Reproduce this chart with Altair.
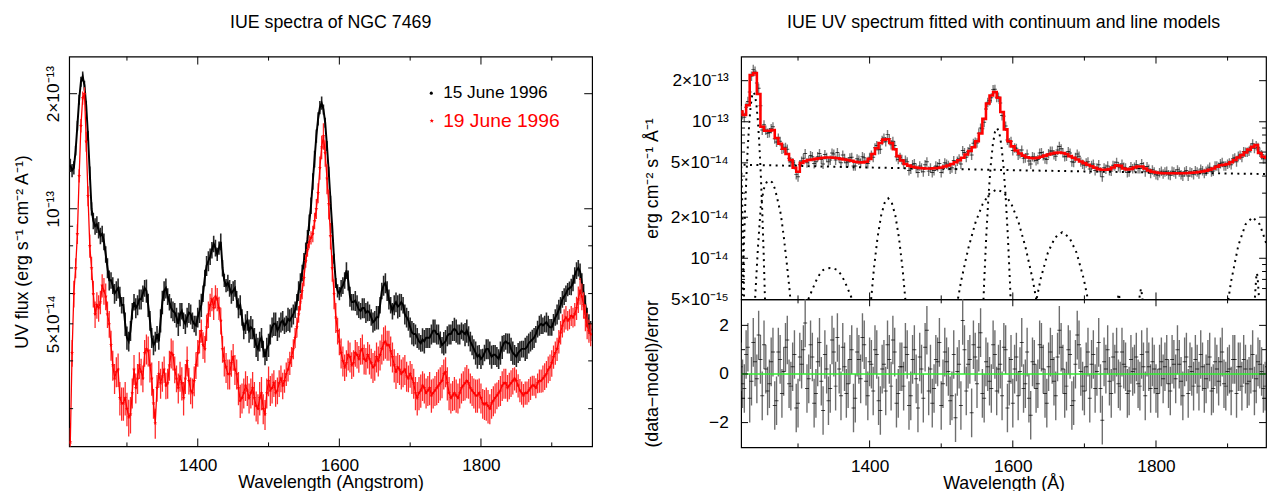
import altair as alt
import pandas as pd

FONT = "Liberation Sans"
UNIT = 1e-14  # all flux arrays below are in units of 1e-14 erg s^-1 cm^-2 A^-1

# ---------------------------------------------------------------- data
wavelength = [
    1220, 1225, 1230, 1235, 1240, 1245, 1250, 1255, 1260, 1265,
    1270, 1275, 1280, 1285, 1290, 1295, 1300, 1305, 1310, 1315,
    1320, 1325, 1330, 1335, 1340, 1345, 1350, 1355, 1360, 1365,
    1370, 1375, 1380, 1385, 1390, 1395, 1400, 1405, 1410, 1415,
    1420, 1425, 1430, 1435, 1440, 1445, 1450, 1455, 1460, 1465,
    1470, 1475, 1480, 1485, 1490, 1495, 1500, 1505, 1510, 1515,
    1520, 1525, 1530, 1535, 1540, 1545, 1550, 1555, 1560, 1565,
    1570, 1575, 1580, 1585, 1590, 1595, 1600, 1605, 1610, 1615,
    1620, 1625, 1630, 1635, 1640, 1645, 1650, 1655, 1660, 1665,
    1670, 1675, 1680, 1685, 1690, 1695, 1700, 1705, 1710, 1715,
    1720, 1725, 1730, 1735, 1740, 1745, 1750, 1755, 1760, 1765,
    1770, 1775, 1780, 1785, 1790, 1795, 1800, 1805, 1810, 1815,
    1820, 1825, 1830, 1835, 1840, 1845, 1850, 1855, 1860, 1865,
    1870, 1875, 1880, 1885, 1890, 1895, 1900, 1905, 1910, 1915,
    1920, 1925, 1930, 1935, 1940, 1945, 1950, 1955,
]
wavelength_mid = [
    1222.5, 1227.5, 1232.5, 1237.5, 1242.5, 1247.5, 1252.5, 1257.5, 1262.5, 1267.5,
    1272.5, 1277.5, 1282.5, 1287.5, 1292.5, 1297.5, 1302.5, 1307.5, 1312.5, 1317.5,
    1322.5, 1327.5, 1332.5, 1337.5, 1342.5, 1347.5, 1352.5, 1357.5, 1362.5, 1367.5,
    1372.5, 1377.5, 1382.5, 1387.5, 1392.5, 1397.5, 1402.5, 1407.5, 1412.5, 1417.5,
    1422.5, 1427.5, 1432.5, 1437.5, 1442.5, 1447.5, 1452.5, 1457.5, 1462.5, 1467.5,
    1472.5, 1477.5, 1482.5, 1487.5, 1492.5, 1497.5, 1502.5, 1507.5, 1512.5, 1517.5,
    1522.5, 1527.5, 1532.5, 1537.5, 1542.5, 1547.5, 1552.5, 1557.5, 1562.5, 1567.5,
    1572.5, 1577.5, 1582.5, 1587.5, 1592.5, 1597.5, 1602.5, 1607.5, 1612.5, 1617.5,
    1622.5, 1627.5, 1632.5, 1637.5, 1642.5, 1647.5, 1652.5, 1657.5, 1662.5, 1667.5,
    1672.5, 1677.5, 1682.5, 1687.5, 1692.5, 1697.5, 1702.5, 1707.5, 1712.5, 1717.5,
    1722.5, 1727.5, 1732.5, 1737.5, 1742.5, 1747.5, 1752.5, 1757.5, 1762.5, 1767.5,
    1772.5, 1777.5, 1782.5, 1787.5, 1792.5, 1797.5, 1802.5, 1807.5, 1812.5, 1817.5,
    1822.5, 1827.5, 1832.5, 1837.5, 1842.5, 1847.5, 1852.5, 1857.5, 1862.5, 1867.5,
    1872.5, 1877.5, 1882.5, 1887.5, 1892.5, 1897.5, 1902.5, 1907.5, 1912.5, 1917.5,
    1922.5, 1927.5, 1932.5, 1937.5, 1942.5, 1947.5, 1952.5,
]

flux_15june = [
    13.0, 12.8, 16.5, 21.5, 21.0, 15.5, 10.0, 9.0, 8.8, 8.6,
    7.6, 6.5, 6.3, 6.1, 5.9, 5.6, 4.6, 4.8, 5.7, 5.6,
    5.8, 6.2, 5.6, 4.6, 4.5, 4.5, 5.7, 6.2, 5.7, 5.4,
    5.2, 5.3, 5.1, 5.2, 5.3, 5.0, 5.2, 5.6, 6.6, 7.3,
    7.8, 7.9, 7.9, 7.0, 6.3, 6.2, 6.1, 5.8, 5.6, 4.8,
    5.1, 4.9, 4.6, 4.3, 4.6, 4.1, 4.4, 4.9, 5.0, 4.9,
    5.1, 5.0, 5.1, 5.3, 5.7, 6.4, 7.3, 8.3, 10.2, 13.5,
    17.2, 18.9, 16.8, 12.5, 8.9, 6.4, 6.0, 6.3, 6.9, 5.9,
    5.7, 5.6, 5.4, 5.5, 5.4, 5.2, 5.1, 5.2, 6.1, 6.4,
    5.8, 5.4, 5.7, 5.6, 5.6, 5.2, 4.9, 4.7, 4.6, 4.45,
    4.5, 4.6, 4.7, 4.8, 4.7, 4.4, 4.5, 4.7, 4.8, 4.8,
    4.7, 4.75, 4.8, 4.5, 4.3, 4.1, 4.05, 4.2, 4.3, 4.1,
    4.15, 4.05, 4.35, 4.5, 4.45, 4.2, 4.1, 4.25, 4.3, 4.35,
    4.5, 4.6, 4.85, 5.0, 5.0, 4.95, 4.9, 5.2, 5.45, 5.8,
    6.0, 6.2, 6.4, 6.9, 6.85, 6.0, 5.2, 4.8,
]
flux_15june_mid = [
    12.6, 14.2, 19.3, 22.2, 18.6, 12.4, 9.3, 9.1, 8.5, 8.2,
    7.0, 6.5, 6.0, 6.2, 5.6, 5.0, 4.5, 5.4, 5.5, 5.8,
    6.0, 6.1, 5.1, 4.4, 4.7, 5.1, 6.1, 5.9, 5.5, 5.35,
    5.0, 5.4, 5.0, 5.35, 5.1, 4.95, 5.4, 6.0, 7.1, 7.5,
    8.1, 7.6, 8.2, 6.5, 6.4, 6.0, 6.2, 5.5, 5.2, 5.0,
    4.8, 4.85, 4.4, 4.5, 4.3, 4.3, 4.7, 5.0, 4.8, 5.05,
    4.95, 5.15, 5.2, 5.45, 6.1, 6.8, 7.7, 9.2, 11.8, 15.5,
    18.4, 18.2, 14.6, 10.5, 7.4, 6.1, 6.2, 6.5, 6.5, 5.7,
    5.75, 5.45, 5.5, 5.35, 5.35, 5.05, 5.2, 5.6, 6.3, 6.1,
    5.6, 5.6, 5.55, 5.7, 5.3, 5.1, 4.75, 4.7, 4.5, 4.55,
    4.6, 4.6, 4.8, 4.7, 4.55, 4.45, 4.65, 4.7, 4.85, 4.7,
    4.8, 4.7, 4.65, 4.4, 4.2, 4.15, 4.1, 4.3, 4.2, 4.15,
    4.1, 4.2, 4.45, 4.45, 4.3, 4.15, 4.2, 4.3, 4.3, 4.45,
    4.55, 4.7, 4.95, 4.95, 5.05, 4.9, 5.05, 5.3, 5.6, 5.9,
    6.15, 6.25, 6.7, 7.0, 6.4, 5.6, 5.0,
]
err_15june_pct = [
    4, 4, 3, 3, 3, 3, 4, 5, 5, 5,
    5, 6, 5, 6, 6, 5, 7, 6, 5, 6,
    6, 5, 7, 6, 6, 5, 7, 6, 5, 6,
    6, 7, 5, 6, 6, 5, 6, 7, 5, 6,
    5, 5, 4, 5, 4, 5, 6, 5, 6, 5,
    6, 7, 6, 7, 6, 5, 7, 6, 7, 6,
    6, 5, 7, 6, 5, 6, 5, 6, 5, 5,
    4, 4, 3, 3, 3, 3, 4, 5, 5, 6,
    5, 6, 5, 6, 6, 5, 6, 7, 5, 6,
    6, 5, 6, 7, 5, 6, 6, 7, 6, 5,
    7, 6, 6, 7, 6, 5, 7, 6, 6, 7,
    6, 5, 7, 6, 6, 7, 6, 5, 6, 7,
    6, 6, 7, 5, 6, 7, 6, 6, 5, 7,
    6, 6, 5, 6, 5, 6, 5, 5, 6, 5,
    5, 4, 5, 5, 5, 6, 6, 6,
]

flux_19june = [
    2.45, 6.0, 8.6, 16.5, 20.0, 10.8, 7.0, 5.3, 5.5, 6.3,
    5.9, 5.0, 3.9, 3.75, 3.2, 3.1, 3.0, 2.9, 3.8, 3.6,
    3.75, 4.2, 4.25, 3.6, 2.75, 3.7, 3.65, 3.45, 3.9, 4.15,
    3.6, 3.65, 3.2, 4.0, 3.35, 3.55, 4.2, 4.8, 4.3, 5.3,
    5.8, 5.9, 5.5, 4.3, 3.85, 3.7, 4.1, 3.7, 3.15, 3.3,
    3.35, 3.3, 3.2, 3.0, 3.3, 2.9, 3.55, 3.4, 3.3, 3.5,
    3.45, 3.7, 3.95, 4.3, 4.9, 5.7, 6.6, 7.8, 8.4, 9.3,
    11.0, 14.5, 14.0, 10.3, 7.0, 5.2, 4.5, 4.0, 3.95, 4.1,
    3.95, 4.15, 4.25, 4.05, 4.15, 3.95, 3.9, 4.0, 4.3, 4.5,
    4.4, 4.1, 3.75, 3.8, 3.75, 3.65, 3.7, 3.5, 3.2, 3.35,
    3.4, 3.35, 3.25, 3.35, 3.45, 3.55, 3.75, 3.3, 3.25, 3.25,
    3.3, 3.45, 3.55, 3.4, 3.3, 3.25, 3.2, 3.08, 3.05, 3.1,
    3.2, 3.3, 3.45, 3.5, 3.45, 3.55, 3.55, 3.35, 3.25, 3.3,
    3.4, 3.45, 3.5, 3.55, 3.65, 3.8, 3.95, 4.2, 4.5, 4.95,
    5.2, 5.15, 5.2, 5.5, 6.1, 5.6, 4.95, 4.7,
]
flux_19june_mid = [
    4.2, 7.0, 12.2, 19.5, 15.0, 8.0, 6.0, 5.6, 5.7, 6.1,
    5.3, 4.4, 3.6, 3.8, 3.1, 3.2, 2.85, 3.3, 3.4, 3.9,
    3.6, 4.3, 3.9, 3.1, 3.4, 3.5, 3.8, 3.5, 4.2, 3.8,
    3.4, 3.5, 3.6, 3.55, 3.3, 3.9, 4.5, 4.4, 4.9, 5.6,
    5.5, 5.8, 5.1, 4.0, 3.7, 3.95, 3.8, 3.4, 3.2, 3.45,
    3.2, 3.4, 3.05, 3.2, 3.0, 3.3, 3.35, 3.5, 3.35, 3.6,
    3.55, 3.8, 4.1, 4.6, 5.3, 6.1, 7.3, 8.2, 8.6, 10.0,
    12.8, 15.5, 12.0, 8.5, 6.0, 4.8, 4.2, 3.85, 4.15, 3.9,
    4.2, 4.05, 4.3, 4.0, 4.05, 3.85, 4.1, 4.15, 4.45, 4.4,
    4.25, 3.9, 3.85, 3.7, 3.8, 3.6, 3.6, 3.3, 3.3, 3.45,
    3.3, 3.4, 3.3, 3.4, 3.5, 3.7, 3.5, 3.2, 3.3, 3.2,
    3.4, 3.5, 3.5, 3.35, 3.25, 3.3, 3.1, 3.1, 3.0, 3.15,
    3.25, 3.35, 3.5, 3.4, 3.5, 3.6, 3.45, 3.3, 3.3, 3.35,
    3.45, 3.4, 3.55, 3.6, 3.7, 3.85, 4.1, 4.3, 4.75, 5.1,
    5.1, 5.25, 5.3, 5.8, 5.9, 5.2, 4.8,
]
err_19june_pct = [
    9, 8, 6, 4, 4, 6, 7, 8, 8, 7,
    8, 8, 9, 9, 10, 10, 10, 11, 9, 9,
    8, 8, 9, 10, 9, 8, 9, 8, 9, 9,
    8, 9, 10, 9, 8, 9, 8, 7, 8, 8,
    7, 7, 7, 8, 9, 9, 8, 9, 10, 9,
    9, 9, 10, 9, 10, 9, 9, 9, 8, 8,
    8, 7, 7, 6, 6, 5, 5, 4, 4, 5,
    6, 7, 8, 9, 8, 9, 8, 9, 8, 9,
    8, 8, 8, 9, 8, 9, 9, 9, 9, 10,
    9, 9, 10, 9, 9, 9, 8, 9, 10, 10,
    9, 9, 10, 9, 10, 10, 9, 10, 9, 10,
    9, 9, 10, 9, 9, 10, 9, 9, 10, 9,
    9, 8, 9, 9, 8, 8, 7, 7, 7, 7,
    7, 6, 6, 7, 8, 8, 8, 7, 7, 7,
    7, 6, 6, 7, 8, 8, 8, 7,
]

fit_data = [
    12.1, 10.8, 14.1, 21.6, 23.5, 17.6, 8.7, 8.7, 8.35, 9.2,
    7.1, 7.2, 6.4, 6.3, 5.1, 4.85, 3.95, 5.15, 5.85, 5.2,
    5.55, 5.1, 5.85, 4.9, 5.5, 5.25, 5.8, 5.95, 5.0, 5.4,
    5.1, 5.5, 4.75, 5.25, 5.55, 5.0, 5.5, 5.5, 6.7, 6.3,
    7.6, 8.05, 6.8, 6.7, 5.3, 5.3, 5.25, 4.4, 4.85, 4.57,
    4.75, 4.3, 5.1, 4.6, 4.4, 4.7, 4.25, 5.0, 4.8, 4.6,
    4.5, 5.35, 6.15, 5.5, 6.35, 6.95, 7.0, 9.0, 9.9, 13.9,
    15.0, 17.3, 15.2, 11.1, 9.3, 7.05, 6.15, 6.4, 5.85, 5.4,
    5.8, 4.9, 5.5, 5.3, 5.95, 5.35, 5.85, 6.1, 5.6, 6.6,
    5.95, 5.6, 5.9, 5.05, 5.8, 5.1, 4.8, 5.1, 4.8, 4.4,
    4.85, 3.95, 4.5, 4.4, 4.8, 5.05, 4.6, 4.65, 4.25, 4.7,
    4.65, 4.55, 4.95, 4.3, 4.5, 4.45, 4.1, 4.25, 4.15, 4.35,
    4.05, 4.3, 4.45, 4.1, 4.3, 4.0, 4.25, 4.4, 4.15, 4.4,
    4.35, 4.65, 4.35, 4.75, 4.95, 4.75, 4.9, 4.85, 5.45, 5.6,
    5.5, 6.0, 6.1, 6.9, 6.7, 6.0, 5.35, 5.55,
]
fit_data_mid = [
    11.3, 12.8, 16.5, 24.2, 19.2, 13.1, 9.5, 8.25, 8.9, 7.5,
    7.6, 6.3, 6.5, 5.4, 5.0, 4.1, 4.85, 5.4, 5.0, 5.65,
    4.95, 5.55, 5.3, 5.75, 5.1, 5.9, 5.25, 5.45, 5.7, 5.0,
    5.45, 4.75, 5.35, 5.0, 5.45, 4.95, 5.7, 6.45, 6.25, 7.3,
    7.15, 7.5, 7.2, 5.55, 5.5, 4.9, 5.1, 4.5, 4.95, 4.25,
    4.6, 4.85, 4.35, 4.25, 4.75, 4.95, 4.55, 4.9, 4.5, 5.2,
    5.15, 4.9, 5.95, 6.05, 5.7, 7.1, 8.25, 8.9, 12.4, 14.3,
    17.2, 15.1, 13.7, 11.0, 7.35, 7.2, 6.45, 5.7, 6.2, 5.45,
    5.15, 5.55, 5.2, 5.9, 5.65, 5.3, 6.1, 5.75, 6.2, 6.35,
    5.55, 6.05, 5.1, 5.5, 5.6, 4.9, 5.0, 4.5, 4.9, 4.6,
    4.3, 4.6, 4.75, 4.35, 4.75, 4.7, 4.9, 4.6, 4.3, 4.55,
    4.85, 4.55, 4.7, 4.7, 4.2, 4.3, 4.05, 4.35, 4.3, 4.1,
    4.35, 4.15, 4.3, 4.0, 4.4, 4.3, 4.1, 4.3, 4.5, 4.2,
    4.5, 4.3, 4.75, 4.65, 5.05, 4.75, 5.0, 5.35, 5.1, 5.7,
    6.05, 6.0, 6.45, 6.4, 6.5, 5.75, 5.35,
]
fit_err_pct = 8

fit_model = [
    11.9, 11.2, 13.2, 22.0, 22.8, 16.0, 9.2, 8.6, 8.6, 8.7,
    7.6, 6.9, 6.35, 5.8, 5.25, 4.6, 4.3, 5.0, 5.15, 5.25,
    5.3, 5.35, 5.4, 5.45, 5.47, 5.47, 5.45, 5.4, 5.35, 5.3,
    5.25, 5.18, 5.1, 5.05, 5.04, 5.1, 5.35, 5.8, 6.4, 7.0,
    7.4, 7.45, 7.0, 6.3, 5.6, 5.2, 4.9, 4.77, 4.68, 4.62,
    4.58, 4.56, 4.55, 4.55, 4.56, 4.58, 4.63, 4.7, 4.78, 4.9,
    5.05, 5.22, 5.45, 5.75, 6.1, 6.5, 7.2, 8.2, 10.5, 13.6,
    15.6, 16.5, 15.0, 11.8, 8.8, 7.2, 6.6, 6.15, 5.85, 5.65,
    5.5, 5.42, 5.4, 5.45, 5.55, 5.65, 5.75, 5.85, 5.92, 5.95,
    5.9, 5.8, 5.6, 5.45, 5.3, 5.12, 4.98, 4.85, 4.72, 4.6,
    4.5, 4.45, 4.45, 4.5, 4.62, 4.8, 4.75, 4.55, 4.48, 4.52,
    4.62, 4.7, 4.7, 4.55, 4.4, 4.3, 4.25, 4.22, 4.2, 4.2,
    4.2, 4.2, 4.2, 4.2, 4.2, 4.22, 4.23, 4.25, 4.28, 4.32,
    4.38, 4.45, 4.55, 4.68, 4.8, 4.85, 4.9, 5.05, 5.25, 5.48,
    5.7, 5.95, 6.25, 6.55, 6.75, 5.9, 5.55, 5.45,
]

residual = [
    0.3, -0.6, 1.1, -0.3, 0.5, 1.6, -0.9, 0.2, -0.4, 0.9,
    -1.1, 0.6, 0.1, 1.4, -0.5, 0.8, -1.2, 0.4, 2.1, -0.2,
    0.7, -0.8, 1.3, -1.5, 0.2, -0.6, 0.9, 1.5, -0.9, 0.3,
    -0.4, 1.0, -1.0, 0.6, 1.5, -0.3, 0.5, -0.7, 0.8, -1.5,
    0.4, 1.2, -0.5, 0.9, -0.8, 0.3, 1.1, -1.3, 0.6, -0.2,
    0.7, -1.0, 1.8, 0.2, -0.6, 0.5, -1.3, 0.9, 0.1, -0.9,
    -1.8, 0.4, 2.2, -0.7, 0.6, 1.2, -0.4, 1.7, -1.0, 0.3,
    -0.6, 0.8, 0.2, -0.9, 1.0, -0.3, -1.2, 0.7, 0.1, -0.6,
    0.9, -1.7, 0.4, -0.4, 1.1, -0.8, 0.3, 0.6, -0.9, 1.8,
    0.2, -0.5, 0.8, -1.1, 1.6, 0.1, -0.7, 0.9, 0.4, -0.6,
    1.3, -1.9, 0.2, -0.3, 0.7, 0.9, -0.5, 0.4, -0.8, 0.6,
    0.2, -0.4, 0.8, -0.9, 0.3, 0.5, -0.6, 0.2, -0.2, 0.6,
    -0.7, 0.4, 1.0, -0.3, 0.5, -0.8, 0.1, 0.6, -0.5, 0.3,
    -0.2, 0.7, -0.6, 0.2, 0.5, -0.4, 0.1, -0.7, 0.6, 0.3,
    -0.5, 0.2, -0.3, 0.8, -0.2, 0.4, -0.6, 0.3,
]
residual_mid = [
    -0.4, 0.8, -1.0, 1.3, -0.2, 0.6, 1.2, -0.7, 0.5, -1.3,
    0.9, -0.8, 1.1, -0.4, 0.3, -1.4, 0.7, 1.0, -0.6, 1.2,
    -1.2, 0.5, -0.3, 0.8, -1.1, 1.4, -0.5, 0.2, 1.1, -0.8,
    0.6, -1.4, 0.9, -0.2, 1.2, -0.9, 0.4, 1.0, -1.1, 0.2,
    -0.7, 0.6, 1.4, -1.2, 0.3, -0.5, 0.8, -0.9, 1.0, -1.4,
    0.2, 1.1, -0.7, -1.2, 0.6, 1.3, -0.4, 0.5, -1.1, 0.8,
    0.1, -1.3, 1.0, 0.4, -1.6, 0.7, 1.1, -0.8, 0.5, -0.3,
    1.2, -0.7, 0.4, 1.1, -1.4, 0.6, 0.2, -0.9, 1.3, -0.4,
    -1.0, 0.5, -0.6, 1.2, 0.2, -1.2, 0.9, -0.3, 0.7, 1.1,
    -0.8, 1.0, -1.3, 0.4, 1.2, -0.5, 0.3, -1.0, 0.8, 0.1,
    -0.6, 0.5, 1.0, -0.8, 0.2, -0.4, 0.9, 0.3, -0.7, 0.1,
    0.7, -0.5, 0.3, 0.9, -0.6, 0.2, -0.8, 0.5, 0.3, -0.4,
    0.6, -0.2, 0.4, -0.9, 0.7, 0.3, -0.5, 0.2, 0.8, -0.6,
    0.4, -0.7, 0.5, -0.3, 0.9, -0.5, 0.2, 0.6, -0.8, 0.3,
    0.6, -0.4, 0.2, -0.7, 0.5, 0.1, -0.5,
]

continuum_wl = [1215, 1300, 1400, 1500, 1600, 1700, 1800, 1900, 1960]
continuum_flux = [4.85, 4.75, 4.62, 4.52, 4.42, 4.33, 4.25, 4.18, 4.14]

lya_blue_wl = [1216, 1218, 1220, 1221, 1222, 1223, 1224, 1225]
lya_blue_flux = [9.0, 7.5, 6.0, 4.2, 2.6, 1.5, 0.8, 0.4]
lya_wl = [1220, 1222, 1224, 1226, 1228, 1230, 1232, 1234, 1236, 1238,
          1240, 1242, 1244, 1246, 1248, 1250, 1252, 1254, 1256]
lya_flux = [0.18, 0.47, 1.08, 2.23, 4.1, 6.8, 10.0, 13.2, 15.6, 16.5,
            15.6, 13.2, 10.0, 6.8, 4.1, 2.23, 1.08, 0.47, 0.18]
nv_wl = [1235, 1240, 1244, 1248, 1252, 1256, 1260, 1264, 1268, 1272,
         1276, 1280, 1284, 1288, 1292]
nv_flux = [0.3, 0.5, 1.2, 2.4, 3.2, 3.6, 3.72, 3.6, 3.2, 2.6,
           2.1, 1.45, 0.95, 0.6, 0.35]
cii_wl = [1305, 1310, 1315, 1320, 1325, 1330, 1335, 1340, 1345, 1350,
          1355, 1360, 1365, 1370, 1375, 1380, 1385]
cii_flux = [0.33, 0.42, 0.51, 0.59, 0.68, 0.76, 0.82, 0.84, 0.85, 0.84,
            0.82, 0.76, 0.68, 0.59, 0.51, 0.42, 0.33]
siiv_wl = [1396, 1401, 1406, 1411, 1416, 1421, 1426, 1431, 1436, 1441,
           1446, 1451, 1456]
siiv_flux = [0.19, 0.43, 0.84, 1.41, 2.05, 2.55, 2.75, 2.55, 2.05, 1.41,
             0.84, 0.43, 0.19]
civ_broad_wl = [1513, 1518, 1528, 1538, 1548, 1558, 1568, 1578, 1588, 1598,
                1608, 1618, 1628, 1638, 1643]
civ_broad_flux = [0.24, 0.35, 0.69, 1.19, 1.84, 2.5, 3.01, 3.2, 3.01, 2.5,
                  1.84, 1.19, 0.69, 0.35, 0.24]
civ_narrow_wl = [1557, 1560, 1563, 1566, 1569, 1572, 1575, 1578, 1581, 1584,
                 1587, 1590, 1593, 1596, 1599]
civ_narrow_flux = [0.26, 0.67, 1.48, 2.84, 4.7, 6.75, 8.4, 9.0, 8.4, 6.75,
                   4.7, 2.84, 1.48, 0.67, 0.26]
heii_wl = [1624, 1629, 1639, 1649, 1659, 1669, 1679, 1689, 1699, 1709, 1714]
heii_flux = [0.27, 0.39, 0.71, 1.1, 1.42, 1.55, 1.42, 1.1, 0.71, 0.39, 0.27]
weak1_wl = [1743, 1746, 1748, 1750, 1753]
weak1_flux = [0.3, 0.48, 0.55, 0.48, 0.3]
weak2_wl = [1774, 1777, 1779, 1781, 1784]
weak2_flux = [0.3, 0.52, 0.6, 0.52, 0.3]
ciii_wl = [1895, 1900, 1905, 1915, 1925, 1935, 1945, 1955, 1960]
ciii_flux = [0.29, 0.46, 0.68, 1.24, 1.77, 2.0, 1.77, 1.24, 1.0]
ciii_narrow_wl = [1936, 1938, 1940, 1941, 1942, 1944, 1946]
ciii_narrow_flux = [0.3, 0.5, 0.72, 0.78, 0.72, 0.5, 0.3]

legend_labels = ["15 June 1996", "19 June 1996"]

# ---------------------------------------------------------------- frames
def spectrum_frame(wls, flux, pct):
    rows = []
    for w, f, p in zip(wls, flux, pct):
        v = f * UNIT
        rows.append({"wl": w, "flux": v, "lo": v * (1 - p / 100.0), "hi": v * (1 + p / 100.0)})
    return pd.DataFrame(rows)


df15 = pd.concat([
    spectrum_frame(wavelength, flux_15june, err_15june_pct),
    spectrum_frame(wavelength_mid, flux_15june_mid, err_15june_pct[1:]),
], ignore_index=True).sort_values("wl")
df19 = pd.concat([
    spectrum_frame(wavelength, flux_19june, err_19june_pct),
    spectrum_frame(wavelength_mid, flux_19june_mid, err_19june_pct[1:]),
], ignore_index=True).sort_values("wl")
dfdata = pd.concat([
    spectrum_frame(wavelength, fit_data, [fit_err_pct] * len(fit_data)),
    spectrum_frame(wavelength_mid, fit_data_mid, [fit_err_pct] * len(fit_data_mid)),
], ignore_index=True)
dfmodel = pd.DataFrame({"wl": wavelength[:len(fit_model)], "flux": [v * UNIT for v in fit_model]})
dfres = pd.DataFrame(
    [{"wl": w, "r": r, "lo": r - 1, "hi": r + 1} for w, r in zip(wavelength, residual)]
    + [{"wl": w, "r": r, "lo": r - 1, "hi": r + 1} for w, r in zip(wavelength_mid, residual_mid)]
)

comp_rows = []
for name, wls, fls in [
    ("continuum", continuum_wl, continuum_flux),
    ("lya_blue", lya_blue_wl, lya_blue_flux),
    ("lya", lya_wl, lya_flux),
    ("nv", nv_wl, nv_flux),
    ("cii", cii_wl, cii_flux),
    ("siiv", siiv_wl, siiv_flux),
    ("civ_b", civ_broad_wl, civ_broad_flux),
    ("civ_n", civ_narrow_wl, civ_narrow_flux),
    ("heii", heii_wl, heii_flux),
    ("w1", weak1_wl, weak1_flux),
    ("w2", weak2_wl, weak2_flux),
    ("ciii", ciii_wl, ciii_flux),
    ("ciii_n", ciii_narrow_wl, ciii_narrow_flux),
]:
    for w, f in zip(wls, fls):
        comp_rows.append({"comp": name, "wl": w, "flux": f * UNIT})
dfcomp = pd.DataFrame(comp_rows)

# ---------------------------------------------------------------- helpers
STAR = "M0,-1L0.24,-0.33L0.95,-0.31L0.39,0.13L0.59,0.81L0,0.41L-0.59,0.81L-0.39,0.13L-0.95,-0.31L-0.24,-0.33Z"
LAB = 17.5
TIT = 18


def tick_layers(X, Y, w, h, xmaj, xmin, ymaj, ymin, L=8, S=4):
    out = []
    for vals, ln in [(xmaj, L), (xmin, S)]:
        d = pd.DataFrame({"v": vals})
        out.append(alt.Chart(d).mark_rule(color="black", strokeWidth=1).encode(
            x=X("v"), y=alt.value(h), y2=alt.value(h - ln)))
        out.append(alt.Chart(d).mark_rule(color="black", strokeWidth=1).encode(
            x=X("v"), y=alt.value(0), y2=alt.value(ln)))
    for vals, ln in [(ymaj, L), (ymin, S)]:
        d = pd.DataFrame({"v": vals})
        out.append(alt.Chart(d).mark_rule(color="black", strokeWidth=1).encode(
            y=Y("v"), x=alt.value(0), x2=alt.value(ln)))
        out.append(alt.Chart(d).mark_rule(color="black", strokeWidth=1).encode(
            y=Y("v"), x=alt.value(w), x2=alt.value(w - ln)))
    return out


# ---------------------------------------------------------------- left panel
WL, HL = 530, 395
SXL = alt.Scale(domain=[1218.4, 1957], nice=False, zero=False)
SYL = alt.Scale(type="log", domain=[2.39e-14, 2.5e-13], nice=False)
AXL = alt.Axis(values=[1400, 1600, 1800], format="d", title="Wavelength (Angstrom)",
               ticks=False, domain=False, grid=False, labelFontSize=LAB, titleFontSize=TIT,
               labelPadding=10, titlePadding=0.5)
AYL = alt.Axis(values=[5e-14, 1e-13, 2e-13],
               labelExpr="datum.value > 1.5e-13 ? '2×10⁻¹³' : (datum.value > 7e-14 ? '10⁻¹³' : '5×10⁻¹⁴')",
               labelAngle=270, labelAlign="center", labelBaseline="bottom", labelOverlap=False,
               ticks=False, domain=False, grid=False, labelFontSize=LAB, titleFontSize=TIT,
               title="UV flux (erg s⁻¹ cm⁻² A⁻¹)", labelPadding=7, titlePadding=12,
               minExtent=26, maxExtent=26)


def XL(f):
    return alt.X(f, type="quantitative", scale=SXL, axis=AXL)


def YL(f):
    return alt.Y(f, type="quantitative", scale=SYL, axis=AYL)


left_layers = [
    alt.Chart(df15).mark_rule(color="#262626", strokeWidth=1.6, clip=True).encode(
        x=XL("wl"), y=YL("lo"), y2="hi"),
    alt.Chart(df15).mark_line(color="black", strokeWidth=2.0, clip=True).encode(
        x=XL("wl"), y=YL("flux")),
    alt.Chart(df19).mark_rule(color="#ff2a2a", strokeWidth=1.3, clip=True).encode(
        x=XL("wl"), y=YL("lo"), y2="hi"),
    alt.Chart(df19).mark_line(color="red", strokeWidth=1.3, clip=True).encode(
        x=XL("wl"), y=YL("flux")),
    alt.Chart(df19).mark_point(shape=STAR, filled=True, color="red", size=18, opacity=1, clip=True).encode(
        x=XL("wl"), y=YL("flux")),
    # legend
    alt.Chart(pd.DataFrame({"t": [legend_labels[0]]})).mark_point(
        shape="circle", filled=True, color="black", size=10, opacity=1).encode(
        x=alt.value(367), y=alt.value(37)),
    alt.Chart(pd.DataFrame({"t": [legend_labels[0]]})).mark_text(
        align="left", baseline="middle", fontSize=17.5, color="black", font=FONT).encode(
        x=alt.value(379), y=alt.value(37), text="t:N"),
    alt.Chart(pd.DataFrame({"t": [legend_labels[1]]})).mark_point(
        shape=STAR, filled=True, color="red", size=22, opacity=1).encode(
        x=alt.value(367.5), y=alt.value(65)),
    alt.Chart(pd.DataFrame({"t": [legend_labels[1]]})).mark_text(
        align="left", baseline="middle", fontSize=19.5, color="red", font=FONT).encode(
        x=alt.value(379), y=alt.value(65), text="t:N"),
]
left_layers += tick_layers(XL, YL, WL, HL, [1400, 1600, 1800], [1300, 1500, 1700, 1900],
                           [1e-13, 2e-13], [3e-14, 4e-14, 5e-14, 6e-14, 7e-14, 8e-14, 9e-14])

left = alt.layer(*left_layers).properties(
    width=WL, height=HL,
    title=alt.TitleParams("IUE spectra of NGC 7469", fontSize=TIT, font=FONT, fontWeight="normal",
                          anchor="middle", frame="group", offset=25, color="black"),
)

# ---------------------------------------------------------------- right panels
WR, HU, HD = 532, 246, 150
SXR = alt.Scale(domain=[1220.5, 1953.7], nice=False, zero=False)
SYU = alt.Scale(type="log", domain=[5e-15, 3e-13], nice=False)
SYD = alt.Scale(domain=[-3.02, 3.07], nice=False, zero=False)
AYU = alt.Axis(values=[5e-15, 1e-14, 2e-14, 5e-14, 1e-13, 2e-13],
               labelExpr=("datum.value > 1.5e-13 ? '2×10⁻¹³' : datum.value > 7e-14 ? '10⁻¹³' : "
                          "datum.value > 3e-14 ? '5×10⁻¹⁴' : datum.value > 1.5e-14 ? '2×10⁻¹⁴' : "
                          "datum.value > 7e-15 ? '10⁻¹⁴' : '5×10⁻¹⁵'"),
               labelOverlap=False, ticks=False, domain=False, grid=False, labelFontSize=LAB,
               titleFontSize=TIT, title="erg cm⁻² s⁻¹ Å⁻¹", labelPadding=13, titlePadding=9,
               minExtent=72, maxExtent=72)
AYD = alt.Axis(values=[-2, 0, 2], labelOverlap=False, ticks=False, domain=False, grid=False,
               labelFontSize=LAB, titleFontSize=TIT, title="(data−model)/error", labelPadding=13,
               titlePadding=9, minExtent=72, maxExtent=72)
AXD = alt.Axis(values=[1400, 1600, 1800], format="d", title="Wavelength (Å)",
               ticks=False, domain=False, grid=False, labelFontSize=LAB, titleFontSize=TIT,
               labelPadding=10, titlePadding=0.5)


def XU(f):
    return alt.X(f, type="quantitative", scale=SXR, axis=None)


def YU(f):
    return alt.Y(f, type="quantitative", scale=SYU, axis=AYU)


def XD(f):
    return alt.X(f, type="quantitative", scale=SXR, axis=AXD)


def YD(f):
    return alt.Y(f, type="quantitative", scale=SYD, axis=AYD)


upper_layers = [
    alt.Chart(dfdata).mark_rule(color="#7a7a7a", strokeWidth=1.4, clip=True).encode(
        x=XU("wl"), y=YU("lo"), y2="hi"),
    alt.Chart(dfdata).mark_tick(color="black", orient="horizontal", size=4, thickness=1, clip=True).encode(
        x=XU("wl"), y=YU("flux")),
    alt.Chart(dfcomp).mark_line(color="black", strokeWidth=2, strokeDash=[2, 4.5], clip=True).encode(
        x=XU("wl"), y=YU("flux"), detail="comp:N"),
    alt.Chart(dfmodel).mark_line(color="red", strokeWidth=2.6, interpolate="step", clip=True).encode(
        x=XU("wl"), y=YU("flux")),
]
upper_layers += tick_layers(XU, YU, WR, HU, [1400, 1600, 1800], [1300, 1500, 1700, 1900],
                            [1e-14, 1e-13, 2e-13, 2e-14, 5e-14],
                            [6e-15, 7e-15, 8e-15, 9e-15, 3e-14, 4e-14, 6e-14, 7e-14, 8e-14, 9e-14],
                            L=7, S=4)
upper = alt.layer(*upper_layers).properties(
    width=WR, height=HU,
    title=alt.TitleParams("IUE UV spectrum fitted with continuum and line models", fontSize=TIT,
                          font=FONT, fontWeight="normal", anchor="middle", frame="group",
                          offset=25, color="black"),
)

lower_layers = [
    alt.Chart(dfres).mark_rule(color="#6e6e6e", strokeWidth=1.4, clip=True).encode(
        x=XD("wl"), y=YD("lo"), y2="hi"),
    alt.Chart(dfres).mark_tick(color="black", orient="horizontal", size=4, thickness=1, clip=True).encode(
        x=XD("wl"), y=YD("r")),
    alt.Chart(pd.DataFrame({"r": [0]})).mark_rule(color="#33ee33", strokeWidth=1.6).encode(
        y=YD("r")),
]
lower_layers += tick_layers(XD, YD, WR, HD, [1400, 1600, 1800], [1300, 1500, 1700, 1900],
                            [-2, 0, 2], [-1, 1], L=7, S=4)
lower = alt.layer(*lower_layers).properties(width=WR, height=HD)

right = alt.vconcat(upper, lower, spacing=0, bounds="flush")

chart = alt.hconcat(left, right, spacing=49).properties(
    padding={"left": 5, "top": 1, "right": 0, "bottom": 0}
).configure(font=FONT).configure_view(
    stroke="black", strokeWidth=1.2
).configure_axis(
    labelFont=FONT, titleFont=FONT, titleFontWeight="normal", labelColor="black", titleColor="black"
).configure_title(font=FONT, fontWeight="normal", color="black")

chart.save("out.html", embed_options={"renderer": "svg", "actions": False})
